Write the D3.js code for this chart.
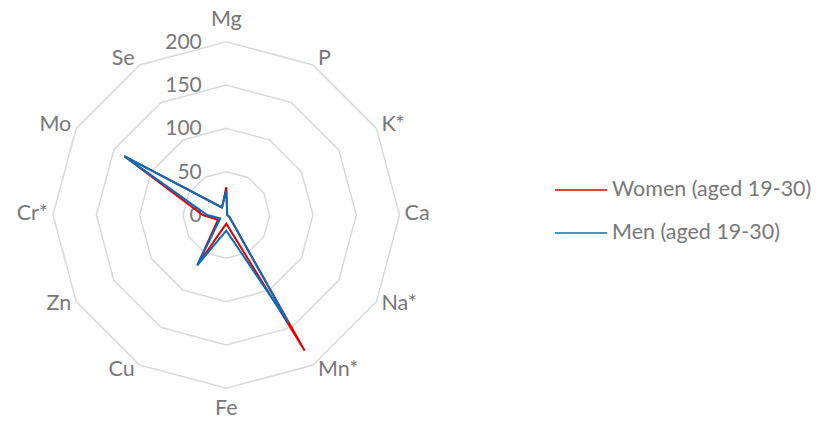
<!DOCTYPE html>
<html>
<head>
<meta charset="utf-8">
<script src="https://cdn.jsdelivr.net/npm/d3@7"></script>
<style>
  html, body { margin: 0; padding: 0; background: #ffffff; }
  svg { display: block; }
  text { font-family: Lato, "Open Sans", sans-serif; fill: #787878; }
</style>
</head>
<body>
<div id="chart"></div>
<script>
// Nutrient axes, clockwise from the top
const categories = ["Mg", "P", "K*", "Ca", "Na*", "Mn*", "Fe", "Cu", "Zn", "Cr*", "Mo", "Se"];
// Percent of reference intake per nutrient
const women = [32, 2, 1, 1, 4, 181, 10, 67, 11, 27, 136, 10];
const men   = [28, 2, 1, 1, 4, 144, 18, 67, 8, 22, 136, 10];
const seriesNames = ["Women (aged 19-30)", "Men (aged 19-30)"];
const seriesColors = ["#E60000", "#0070C0"];
const radialTicks = [0, 50, 100, 150, 200];

const width = 824, height = 423;
const cx = 226.3, cy = 215, outer = 173.3;
const fontSize = 21.5;

const svg = d3.select("#chart").append("svg")
  .attr("width", width).attr("height", height);

const r = d3.scaleLinear().domain([0, 200]).range([0, outer]);
const angle = d3.scalePoint().domain(categories.concat(["_end"])).range([0, 2 * Math.PI]);

const g = svg.append("g").attr("transform", `translate(${cx},${cy})`);

// Concentric polygon gridlines
radialTicks.filter(t => t > 0).forEach(t => {
  const pts = categories.map(c => [Math.sin(angle(c)) * r(t), -Math.cos(angle(c)) * r(t)]);
  g.append("path")
    .attr("d", d3.line().curve(d3.curveLinearClosed)(pts))
    .attr("fill", "none")
    .attr("stroke", "#D9D9D9")
    .attr("stroke-width", 1.5);
});

// Radial value labels, right-aligned along the upward axis
g.selectAll("text.tick").data(radialTicks).join("text")
  .attr("class", "tick")
  .attr("x", -24.5)
  .attr("y", d => -r(d) + 1.5)
  .attr("text-anchor", "end")
  .attr("dominant-baseline", "middle")
  .attr("font-size", 21)
  .text(d => d);

// Category labels: each box sits just outside its axis end
g.selectAll("text.cat").data(categories).join("text")
  .attr("class", "cat")
  .attr("text-anchor", "middle")
  .attr("dominant-baseline", "middle")
  .attr("font-size", fontSize)
  .text(d => d)
  .each(function (d) {
    const a = angle(d);
    const s = Math.sin(a), c = Math.cos(a);
    const w = this.getComputedTextLength();
    let x = s * outer, y = -c * outer;
    if (Math.abs(s) < 0.01) {
      y += -Math.sign(c) * 21.5;
    } else {
      x += Math.sign(s) * (5 + w / 2);
      y += -c * 6.5;
    }
    d3.select(this).attr("x", x).attr("y", y);
  });

// Series outlines
const radar = d3.lineRadial()
  .angle((d, i) => angle(categories[i]))
  .radius(d => r(d))
  .curve(d3.curveLinearClosed);

[women, men].forEach((vals, k) => {
  g.append("path")
    .attr("d", radar(vals))
    .attr("fill", "none")
    .attr("stroke", seriesColors[k])
    .attr("stroke-width", 2)
    .attr("stroke-linejoin", "miter");
});

// Legend
const legend = svg.append("g");
const legendY = [190, 233];
seriesNames.forEach((name, k) => {
  legend.append("line")
    .attr("x1", 555).attr("x2", 607)
    .attr("y1", legendY[k]).attr("y2", legendY[k])
    .attr("stroke", seriesColors[k])
    .attr("stroke-width", 1.5);
  legend.append("text")
    .attr("x", 612).attr("y", legendY[k] + 1)
    .attr("dominant-baseline", "middle")
    .attr("font-size", fontSize)
    .text(name);
});
</script>
</body>
</html>
